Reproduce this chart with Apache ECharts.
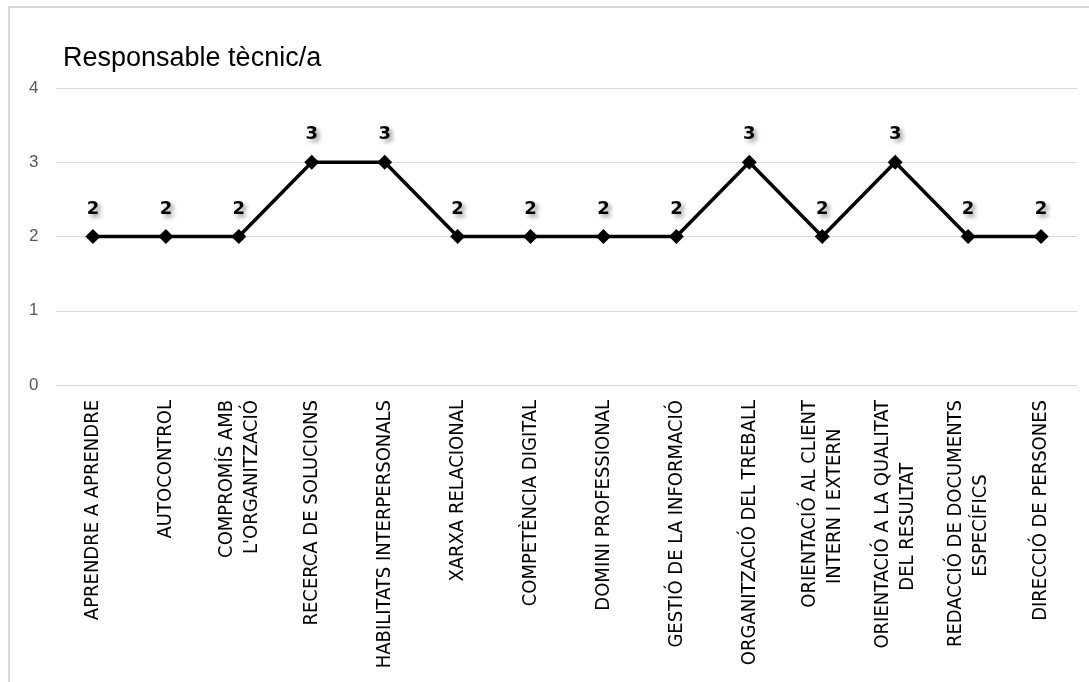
<!DOCTYPE html>
<html>
<head>
<meta charset="utf-8">
<script src="https://cdn.jsdelivr.net/npm/echarts@6/dist/echarts.min.js"></script>
<style>
html, body { margin: 0; padding: 0; background: #fff; }
#chart { width: 1089px; height: 682px; }
</style>
</head>
<body>
<div id="chart"></div>
<script>
var titleText = "Responsable tècnic/a";
var categories = [
    "APRENDRE A APRENDRE",
    "AUTOCONTROL",
    "COMPROMÍS AMB\nL'ORGANITZACIÓ",
    "RECERCA DE SOLUCIONS",
    "HABILITATS INTERPERSONALS",
    "XARXA RELACIONAL",
    "COMPETÈNCIA DIGITAL",
    "DOMINI PROFESSIONAL",
    "GESTIÓ DE LA INFORMACIÓ",
    "ORGANITZACIÓ DEL TREBALL",
    "ORIENTACIÓ AL CLIENT\nINTERN I EXTERN",
    "ORIENTACIÓ A LA QUALITAT\nDEL RESULTAT",
    "REDACCIÓ DE DOCUMENTS\nESPECÍFICS",
    "DIRECCIÓ DE PERSONES"
];
var values = [2, 2, 2, 3, 3, 2, 2, 2, 2, 3, 2, 3, 2, 2];
var yTicks = [0, 1, 2, 3, 4];

var xFont = '20px "Liberation Sans Narrow", "DejaVu Sans Condensed", sans-serif';

// pad the shorter line of two-line labels so the lines look centred
var ctx = document.createElement('canvas').getContext('2d');
ctx.font = xFont;
function centreLines(txt) {
    var lines = txt.split('\n');
    if (lines.length < 2) return txt;
    var widths = lines.map(function (l) { return ctx.measureText(l).width; });
    var maxW = Math.max.apply(null, widths);
    var sp = ctx.measureText(' ').width;
    return lines.map(function (l, i) {
        var n = Math.round((maxW - widths[i]) / 2 / sp);
        return l + new Array(n + 1).join(' ');
    }).join('\n');
}

var chart = echarts.init(document.getElementById('chart'));
var option = {
    animation: false,
    backgroundColor: '#fff',
    title: {
        text: titleText,
        left: 58,
        top: 40,
        textStyle: {
            fontFamily: 'Liberation Sans',
            fontSize: 27,
            fontWeight: 'normal',
            color: '#000'
        }
    },
    graphic: [{
        type: 'rect',
        shape: { x: 9, y: 7, width: 1200, height: 800 },
        style: { fill: 'none', stroke: '#d9d9d9', lineWidth: 2 },
        silent: true
    }],
    grid: { left: 56.5, right: 11.5, top: 88, bottom: 297 },
    xAxis: {
        type: 'category',
        data: categories,
        boundaryGap: true,
        axisLine: { show: true, lineStyle: { color: '#d9d9d9', width: 1 } },
        axisTick: { show: false },
        axisLabel: {
            interval: 0,
            rotate: 90,
            margin: 15,
            fontFamily: '"Liberation Sans Narrow", "DejaVu Sans Condensed", sans-serif',
            fontSize: 20,
            color: '#000',
            lineHeight: 25,
            formatter: centreLines
        }
    },
    yAxis: {
        type: 'value',
        min: yTicks[0],
        max: yTicks[yTicks.length - 1],
        interval: 1,
        axisLine: { show: false },
        axisTick: { show: false },
        splitLine: { lineStyle: { color: '#d9d9d9', width: 1 } },
        axisLabel: {
            margin: 18,
            fontFamily: 'Liberation Sans',
            fontSize: 17,
            color: '#595959'
        }
    },
    series: [{
        type: 'line',
        data: values,
        symbol: 'diamond',
        symbolSize: 15,
        itemStyle: { color: '#000' },
        lineStyle: { color: '#000', width: 3.5 },
        label: {
            show: true,
            position: 'top',
            distance: 11,
            fontFamily: 'DejaVu Sans',
            fontWeight: 'bold',
            fontSize: 18,
            color: '#000',
            textShadowColor: 'rgba(0,0,0,0.4)',
            textShadowBlur: 4,
            textShadowOffsetX: 3,
            textShadowOffsetY: 3
        }
    }]
};
chart.setOption(option);
</script>
</body>
</html>
